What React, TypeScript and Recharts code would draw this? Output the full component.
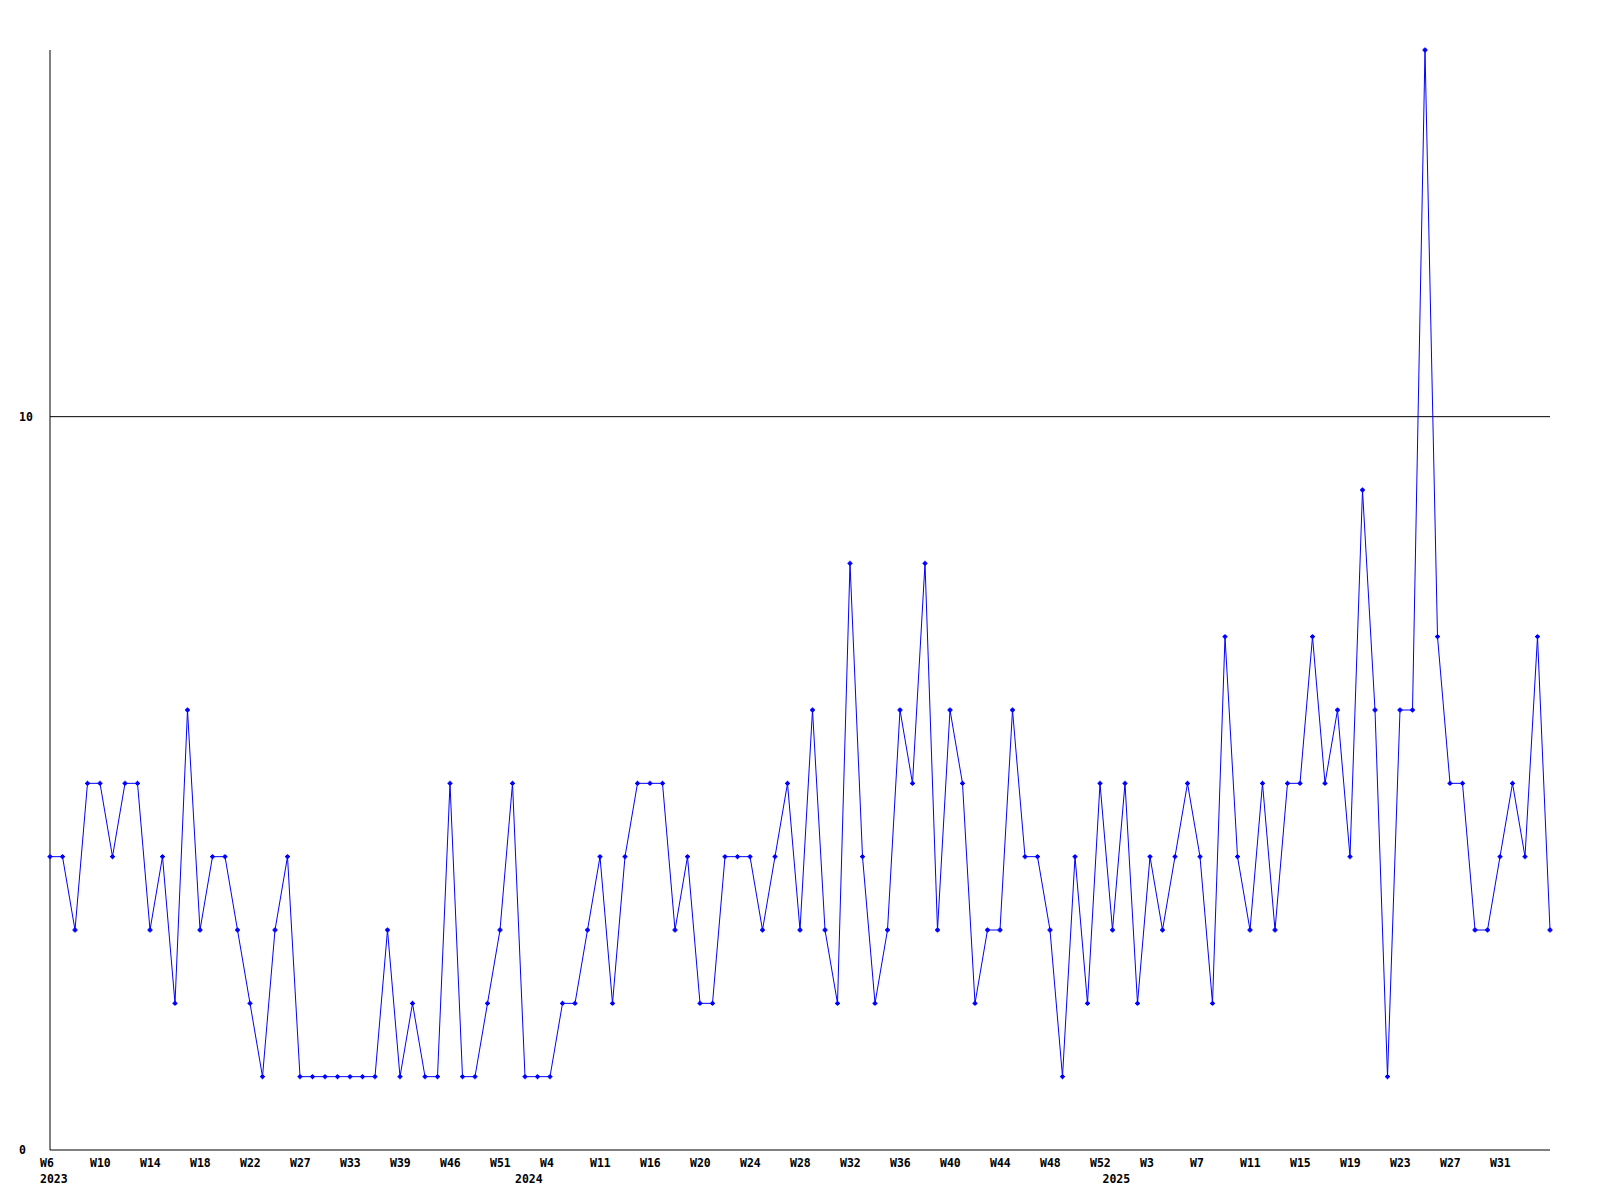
import { Line, LineChart, ReferenceLine, XAxis, YAxis } from 'recharts';

// one value per week
const values = [
  4, 4, 3, 5, 5, 4, 5, 5, 3, 4,
  2, 6, 3, 4, 4, 3, 2, 1, 3, 4,
  1, 1, 1, 1, 1, 1, 1, 3, 1, 2,
  1, 1, 5, 1, 1, 2, 3, 5, 1, 1,
  1, 2, 2, 3, 4, 2, 4, 5, 5, 5,
  3, 4, 2, 2, 4, 4, 4, 3, 4, 5,
  3, 6, 3, 2, 8, 4, 2, 3, 6, 5,
  8, 3, 6, 5, 2, 3, 3, 6, 4, 4,
  3, 1, 4, 2, 5, 3, 5, 2, 4, 3,
  4, 5, 4, 2, 7, 4, 3, 5, 3, 5,
  5, 7, 5, 6, 4, 9, 6, 1, 6, 6,
  15, 7, 5, 5, 3, 3, 4, 5, 4, 7, 3,
];

// a week label every fourth point
const weekTicks = [
  'W6', 'W10', 'W14', 'W18', 'W22', 'W27', 'W33', 'W39', 'W46', 'W51',
  'W4', 'W11', 'W16', 'W20', 'W24', 'W28', 'W32', 'W36', 'W40', 'W44', 'W48', 'W52',
  'W3', 'W7', 'W11', 'W15', 'W19', 'W23', 'W27', 'W31',
];
const tickStep = 4;

// year labels sit on the first point of each year
const yearIndex = [0, 38, 85];
const yearLabels = ['2023', '2024', '2025'];

const yTicks = [0, 10];

const data = values.map((value, idx) => ({ idx, value }));
const xTicks = Array.from(new Set([...weekTicks.map((_, i) => i * tickStep), ...yearIndex])).sort((a, b) => a - b);

const FONT = '"DejaVu Sans Mono", "Liberation Mono", monospace';

function WeekTick(props: any) {
  const { x, y, payload } = props;
  const idx = payload.value as number;
  const week = idx % tickStep === 0 ? weekTicks[idx / tickStep] : undefined;
  const yearPos = yearIndex.indexOf(idx);
  return (
    <g>
      {week ? (
        <text x={x - 10} y={y + 5} textAnchor="start" dominantBaseline="central" fontFamily={FONT} fontWeight="bold" fontSize={11.5} fill="#000">
          {week}
        </text>
      ) : null}
      {yearPos >= 0 ? (
        <text x={x - 10} y={y + 21} textAnchor="start" dominantBaseline="central" fontFamily={FONT} fontWeight="bold" fontSize={11.5} fill="#000">
          {yearLabels[yearPos]}
        </text>
      ) : null}
    </g>
  );
}

function ValueTick(props: any) {
  const { y, payload } = props;
  return (
    <text x={19} y={y} textAnchor="start" dominantBaseline="central" fontFamily={FONT} fontWeight="bold" fontSize={11.5} fill="#000">
      {payload.value}
    </text>
  );
}

function PlusDot(props: any) {
  const { cx, cy, index } = props;
  if (cx == null || cy == null) return <g key={index} />;
  return (
    <path
      key={index}
      d={`M${cx - 2.5},${cy} H${cx + 2.5} M${cx},${cy - 2.5} V${cy + 2.5} M${cx - 1},${cy - 1} h2 v2 h-2 z`}
      stroke="#0000ff"
      strokeWidth={1.3}
      fill="#0000ff"
    />
  );
}

export default function App() {
  return (
    <div style={{ width: 1600, height: 1200, background: '#fff' }}>
      <style>{'body { margin: 0; }'}</style>
      <LineChart width={1600} height={1200} data={data} margin={{ top: 50, right: 50, bottom: 0, left: 0 }}>
        <XAxis
          dataKey="idx"
          type="number"
          domain={[0, 120]}
          ticks={xTicks}
          interval={0}
          tick={<WeekTick />}
          tickLine={false}
          axisLine={{ stroke: '#000' }}
          height={50}
        />
        <YAxis
          type="number"
          domain={[0, 15]}
          ticks={yTicks}
          tick={<ValueTick />}
          tickLine={false}
          axisLine={{ stroke: '#000' }}
          width={50}
        />
        <ReferenceLine y={10} stroke="#000" strokeWidth={1} />
        <Line
          dataKey="value"
          type="linear"
          stroke="#0000ff"
          strokeWidth={1}
          dot={PlusDot}
          activeDot={false}
          isAnimationActive={false}
        />
      </LineChart>
    </div>
  );
}
